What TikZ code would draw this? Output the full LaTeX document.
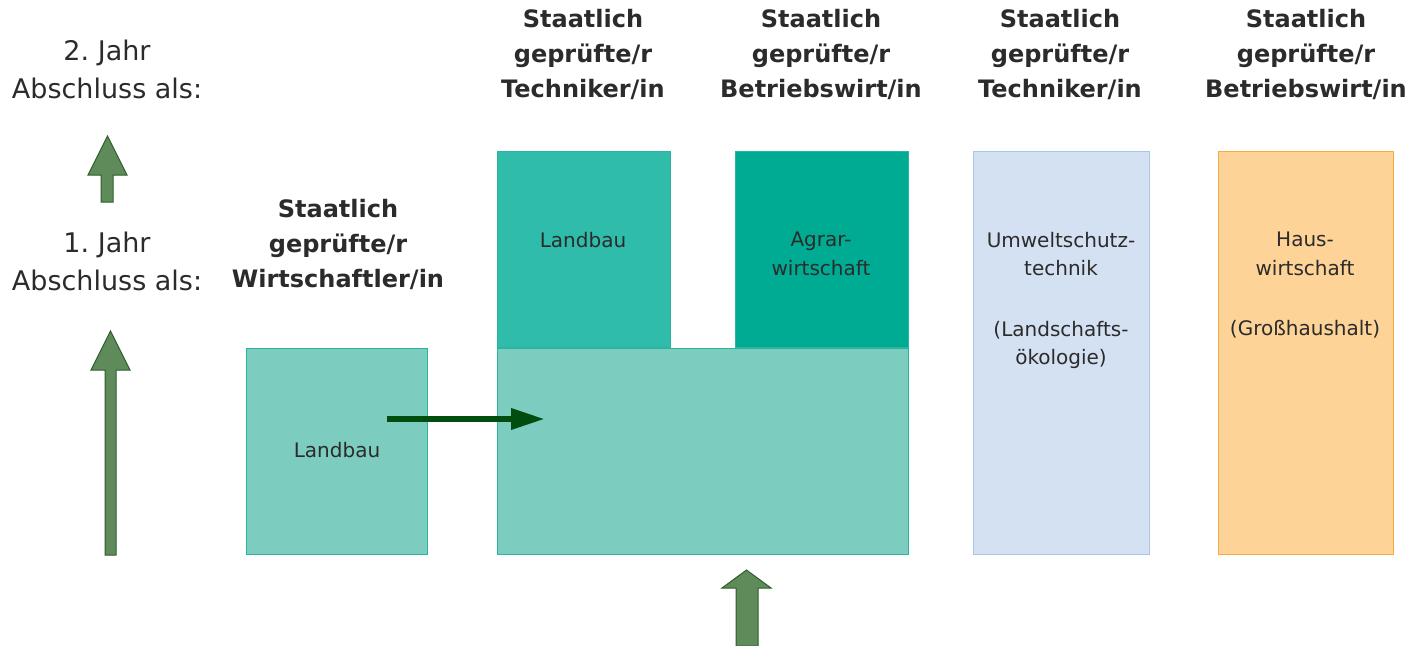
\documentclass[tikz,border=0pt]{standalone}
\usepackage{fontspec}
\setmainfont{DejaVu Sans}
\usetikzlibrary{arrows.meta}
\definecolor{tealA}{HTML}{7CCDC0}
\definecolor{tealAb}{HTML}{2BB5A0}
\definecolor{tealB}{HTML}{2FBCAA}
\definecolor{tealC}{HTML}{00AB93}
\definecolor{blueF}{HTML}{D4E1F2}
\definecolor{blueB}{HTML}{A9C6EA}
\definecolor{orgF}{HTML}{FDD397}
\definecolor{orgB}{HTML}{F6AC3E}
\definecolor{arrF}{HTML}{5F8A5A}
\definecolor{arrB}{HTML}{2D5E2A}
\definecolor{darkG}{HTML}{004D10}
\definecolor{txt}{HTML}{2B2B2B}
\frenchspacing
\begin{document}
\begin{tikzpicture}[x=1pt,y=-1pt,
  box/.style={draw=tealAb, line width=0.8pt, anchor=north west, inner sep=0pt},
  hdr/.style={align=center, font=\fontsize{24}{35}\selectfont\bfseries, text=txt, inner sep=0pt},
  yr/.style={align=center, font=\fontsize{27}{38}\selectfont, text=txt, inner sep=0pt},
  btxt/.style={align=center, font=\fontsize{20}{28.5}\selectfont, text=txt, inner sep=0pt, anchor=north},
  blockarrow/.style={fill=arrF, draw=arrB, line width=1pt, line join=miter}]
\useasboundingbox (0,0) rectangle (1421,645);
% boxes
\node[box, fill=tealA, minimum width=181pt, minimum height=206pt] (lb1) at (246,348) {};
\node[box, fill=tealA, minimum width=411pt, minimum height=206pt] (big) at (497,348) {};
\node[box, fill=tealB, minimum width=173pt, minimum height=196pt] (lb2) at (497,151) {};
\node[box, fill=tealC, minimum width=173pt, minimum height=196pt] (agr) at (735,151) {};
\node[box, draw=blueB, fill=blueF, minimum width=176pt, minimum height=403pt] (umw) at (973,151) {};
\node[box, draw=orgB, fill=orgF, minimum width=175pt, minimum height=403pt] (haus) at (1218,151) {};
% box texts
\node[btxt] (t1) at (337,442) {Landbau};
\node[btxt] (t2) at (583,232) {Landbau};
\node[btxt] (t3) at (821,232) {Agrar-\\wirtschaft};
\node[btxt] (t4) at (1061,232) {Umweltschutz-\\technik\\[32pt](Landschafts-\\ökologie)};
\node[btxt] (t5) at (1305,232) {Haus-\\wirtschaft\\[32pt](Großhaushalt)};
% headers
\node[hdr] (h1) at (338,244) {Staatlich\\geprüfte/r\\Wirtschaftler/in};
\node[hdr] (h2) at (583,54) {Staatlich\\geprüfte/r\\Techniker/in};
\node[hdr] (h3) at (821,54) {Staatlich\\geprüfte/r\\Betriebswirt/in};
\node[hdr] (h4) at (1060,54) {Staatlich\\geprüfte/r\\Techniker/in};
\node[hdr] (h5) at (1306,54) {Staatlich\\geprüfte/r\\Betriebswirt/in};
% year labels
\node[yr] (y2) at (107,69) {2. Jahr\\Abschluss als:};
\node[yr] (y1) at (107,261) {1. Jahr\\Abschluss als:};
% block arrows
\draw[blockarrow] (101,202) -- (101,175) -- (88,175) -- (107.5,136) -- (127,175) -- (113,175) -- (113,202) -- cycle;
\draw[blockarrow] (105,555) -- (105,370) -- (91,370) -- (110.5,331) -- (130,370) -- (116,370) -- (116,555) -- cycle;
\draw[blockarrow] (736,646) -- (736,588) -- (722,588) -- (746.5,570) -- (771,588) -- (758,588) -- (758,646) -- cycle;
% transfer arrow
\coordinate (as) at (387,419);
\coordinate (ae) at (545,419);
\draw[darkG, line width=6.5pt, -{Triangle[length=34pt,width=20pt]}] (as) -- (ae);
\end{tikzpicture}
\end{document}
